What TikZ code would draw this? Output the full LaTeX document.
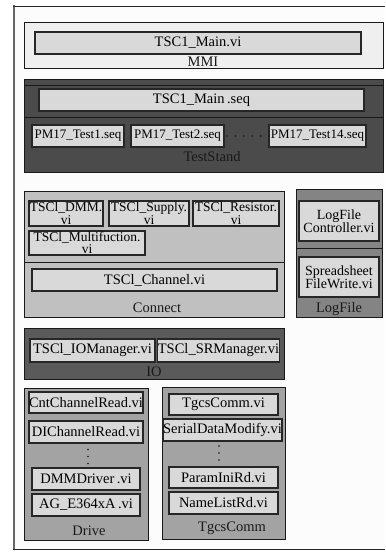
\documentclass[tikz,border=0pt]{standalone}
\usepackage{fontspec}
\setmainfont{Liberation Serif}
\usetikzlibrary{calc}
\definecolor{mmifill}{HTML}{EFEFEF}
\definecolor{inner}{HTML}{D9D9D9}
\definecolor{tsfill}{HTML}{4B4B4B}
\definecolor{confill}{HTML}{C0C0C0}
\definecolor{logfill}{HTML}{848484}
\definecolor{iofill}{HTML}{5A5A5A}
\definecolor{drvfill}{HTML}{A3A3A3}
\newcommand\fA{\fontsize{14.5}{11}\selectfont}
\newcommand\fB{\fontsize{13}{11}\selectfont}
\newcommand\fC{\fontsize{14}{13.5}\selectfont}
\newcommand\fD{\fontsize{13.5}{12.5}\selectfont}
\tikzset{
  group/.style={draw=black!90, line width=0.8pt, inner sep=0pt, outer sep=0pt},
  vibox/.style={draw=black!85, fill=inner, line width=1.1pt, inner sep=0pt, outer sep=0pt, align=center, font=\fA},
  twoline/.style={vibox, font=\fD},
  lbl/.style={inner sep=0pt, font=\fA, text=black!90},
  dotline/.style={line width=1.8pt, line cap=round, dash pattern=on 0pt off 7pt, black!90}
}
\begin{document}
\begin{tikzpicture}[x=1pt,y=-1pt]
\useasboundingbox (0,0) rectangle (385,553);
\fill[white] (0,0) rectangle (385,553);
% outer frame
\fill[black!1] (14,6) rectangle (385,549);
\draw[black!60, line width=2pt] (14,5.5) -- (14,549.5);
\draw[black!85, line width=0.9pt] (385,6) -- (13,6);
\draw[black!85, line width=0.9pt] (13,549) -- (385,549);

% MMI
\node[group, fill=mmifill, minimum width=359, minimum height=46] (mmi) at (203.5,45) {};
\node[vibox, minimum width=326, minimum height=22] (mainvi) at (198,43) {TSC1\_Main.vi};
\node[lbl] (mmil) at (203,62) {MMI};

% TestStand
\node[group, fill=tsfill, minimum width=359, minimum height=93] (ts) at (203.5,125.5) {};
\draw[black!90, line width=0.8pt] (ts.west |- 0,85) -- (ts.east |- 0,85);
\draw[black!90, line width=0.8pt] (ts.west |- 0,117) -- (ts.east |- 0,117);
\node[vibox, minimum width=325, minimum height=22] (mainseq) at (201.5,100) {TSC1\_Main\,.seq};
\node[vibox, font=\fB, minimum width=92, minimum height=22] (pm1) at (78,136) {PM17\_Test1.seq};
\node[vibox, font=\fB, minimum width=93, minimum height=22] (pm2) at (177.5,136) {PM17\_Test2.seq};
\node[vibox, font=\fB, minimum width=97, minimum height=22] (pm14) at (317.5,136) {PM17\_Test14.seq};
\draw[dotline, dash pattern=on 0pt off 8.4pt, dash phase=5.4pt] (pm2.east) -- (pm14.west);
\node[lbl] (tsl) at (212,157) {TestStand};

% Connect
\node[group, fill=confill, minimum width=260, minimum height=126] (con) at (154,254) {};
\draw[black!90, line width=0.8pt] (con.west |- 0,262) -- (con.east |- 0,262);
\node[twoline, minimum width=74, minimum height=25] (dmm) at (66,213.5) {TSCl\_DMM.\\vi};
\node[twoline, minimum width=80, minimum height=25] (sup) at (149,213.5) {TSCl\_Supply.\\vi};
\node[twoline, minimum width=86, minimum height=25] (res) at (236,213.5) {TSCl\_Resistor.\\vi};
\node[twoline, minimum width=116, minimum height=24] (mul) at (87,243) {TSCl\_Multifuction.\\vi};
\node[vibox, minimum width=245, minimum height=22] (chan) at (154.5,280) {TSCl\_Channel.vi};
\node[lbl] (conl) at (157,308) {Connect};

% LogFile
\node[group, fill=logfill, minimum width=86, minimum height=128] (log) at (339,253) {};
\draw[black!90, line width=0.8pt] (log.west |- 0,248) -- (log.east |- 0,248);
\node[vibox, font=\fC, minimum width=80, minimum height=40] (lfc) at (339,221) {LogFile\\Controller.vi};
\node[vibox, font=\fC, minimum width=80, minimum height=40] (sfw) at (339,277) {Spreadsheet\\FileWrite.vi};
\node[lbl] (logl) at (339,309) {LogFile};

% IO
\node[group, fill=iofill, minimum width=260, minimum height=51] (io) at (154,353.5) {};
\node[vibox, minimum width=125, minimum height=23] (iom) at (92.5,350.5) {TSCl\_IOManager.vi};
\node[vibox, minimum width=119, minimum height=23] (srm) at (218.5,350.5) {TSCl\_SRManager.vi};
\node[lbl] (iol) at (154,372) {IO};

% Drive
\node[group, fill=drvfill, minimum width=124, minimum height=152] (drv) at (86,464) {};
\node[vibox, minimum width=114, minimum height=21] (cnt) at (86,402.5) {CntChannelRead.vi};
\node[vibox, minimum width=114, minimum height=22] (dich) at (86,432) {DIChannelRead.vi};
\node[vibox, minimum width=108, minimum height=22] (dmmd) at (86,479) {DMMDriver\,.vi};
\node[vibox, minimum width=108, minimum height=22] (age) at (86,505) {AG\_E364xA\,.vi};
\draw[dotline, dash phase=0.5pt] ($(dich.south)+(2,0)$) -- ($(dmmd.north)+(2,0)$);
\node[lbl] (drvl) at (89,531) {Drive};

% TgcsComm
\node[group, fill=drvfill, minimum width=123, minimum height=152] (tg) at (223.5,463) {};
\node[vibox, minimum width=109, minimum height=21] (tgc) at (223.5,404.5) {TgcsComm.vi};
\node[vibox, minimum width=119, minimum height=22] (sdm) at (222.5,430) {SerialDataModify.vi};
\node[vibox, minimum width=109, minimum height=21] (pir) at (223.5,477.5) {ParamIniRd.vi};
\node[vibox, minimum width=109, minimum height=22] (nlr) at (223.5,503) {NameListRd.vi};
\draw[dotline, dash phase=2pt] ($(sdm.south)+(-3.5,0)$) -- ($(pir.north)+(-4.5,0)$);
\node[lbl] (tgl) at (232,528) {TgcsComm};
\end{tikzpicture}
\end{document}
